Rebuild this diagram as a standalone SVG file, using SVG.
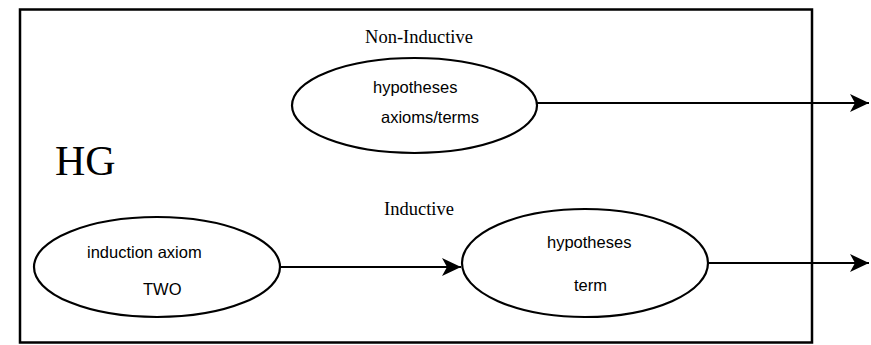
<svg xmlns="http://www.w3.org/2000/svg" width="871" height="345" viewBox="0 0 871 345">
  <style>
    .frame { fill: none; stroke: #000; stroke-width: 2.5; }
    .node { fill: #fff; stroke: #000; stroke-width: 2.2; }
    .edge { fill: none; stroke: #000; stroke-width: 2.2; }
    .sans { font-family: "Liberation Sans", Arial, sans-serif; font-size: 16.5px; fill: #000; }
    .serif { font-family: "Liberation Serif", "Times New Roman", serif; fill: #000; }
  </style>
  <defs>
    <marker id="arrow" markerUnits="userSpaceOnUse" markerWidth="22" markerHeight="22" viewBox="-20 -10 22 20" refX="0" refY="0" orient="auto">
      <path d="M0,0 L-19,-9 L-14,0 L-19,9 Z" fill="#000"/>
    </marker>
  </defs>

  <rect class="frame" x="20" y="9.5" width="792" height="333"/>

  <text class="serif" x="55" y="175" font-size="42">HG</text>
  <text class="serif" x="419" y="43" font-size="18.5" text-anchor="middle">Non-Inductive</text>
  <text class="serif" x="419" y="215" font-size="18.5" text-anchor="middle">Inductive</text>

  <g id="connectors">
    <line class="edge" x1="537" y1="103" x2="869" y2="103" marker-end="url(#arrow)"/>
    <line class="edge" x1="280" y1="267" x2="461" y2="267" marker-end="url(#arrow)"/>
    <line class="edge" x1="708" y1="263" x2="869" y2="263" marker-end="url(#arrow)"/>
  </g>

  <g id="non-inductive">
    <ellipse class="node" cx="414.5" cy="105.5" rx="122.5" ry="47.5"/>
    <text class="sans" x="373" y="93">hypotheses</text>
    <text class="sans" x="381" y="123">axioms/terms</text>
  </g>

  <g id="induction-axiom">
    <ellipse class="node" cx="157" cy="267" rx="123" ry="50"/>
    <text class="sans" x="87" y="258">induction axiom</text>
    <text class="sans" x="143" y="295">TWO</text>
  </g>

  <g id="inductive">
    <ellipse class="node" cx="585" cy="263" rx="123" ry="54"/>
    <text class="sans" x="547" y="248">hypotheses</text>
    <text class="sans" x="574" y="291">term</text>
  </g>
</svg>
